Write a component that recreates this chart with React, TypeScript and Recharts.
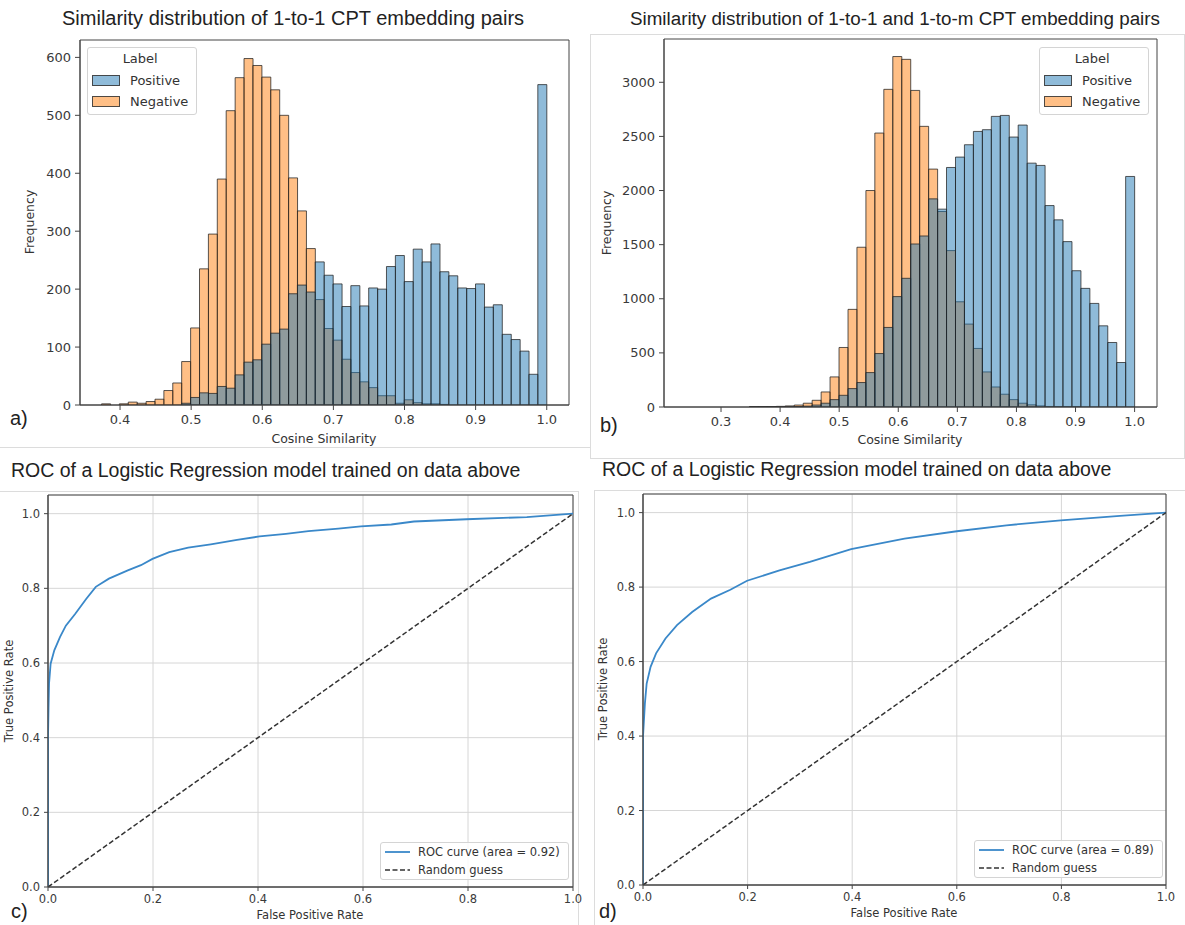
import React from 'react';
import { BarChart, Bar, LineChart, Line, XAxis, YAxis, CartesianGrid, Legend, ReferenceArea } from 'recharts';

// a) 1-to-1 pairs: bin centres (50 bins, 0.374 .. 1.0) and counts per label
const binsA = [
  0.3803, 0.3928, 0.4053, 0.4178, 0.4303, 0.4429, 0.4554, 0.4679, 0.4804, 0.4929,
  0.5055, 0.518, 0.5305, 0.543, 0.5555, 0.5681, 0.5806, 0.5931, 0.6056, 0.6181,
  0.6307, 0.6432, 0.6557, 0.6682, 0.6807, 0.6933, 0.7058, 0.7183, 0.7308, 0.7433,
  0.7559, 0.7684, 0.7809, 0.7934, 0.8059, 0.8185, 0.831, 0.8435, 0.856, 0.8685,
  0.8811, 0.8936, 0.9061, 0.9186, 0.9311, 0.9437, 0.9562, 0.9687, 0.9812, 0.9937,
];
const positiveA = [
  0, 0, 0, 0, 0, 0, 0, 0, 0, 3,
  13, 21, 20, 32, 29, 52, 74, 78, 105, 124,
  131, 192, 207, 195, 247, 224, 209, 170, 206, 171,
  202, 200, 239, 258, 213, 269, 247, 278, 230, 223,
  202, 201, 209, 169, 173, 122, 113, 93, 53, 553,
];
const negativeA = [
  2, 0, 2, 5, 3, 6, 10, 25, 38, 75,
  133, 235, 295, 390, 508, 565, 598, 586, 566, 544,
  500, 392, 335, 270, 182, 132, 112, 79, 56, 40,
  30, 16, 16, 3, 9, 4, 2, 2, 1, 0,
  0, 0, 0, 0, 0, 0, 0, 0, 0, 0,
];

// b) 1-to-1 and 1-to-m pairs: bin centres (50 bins, 0.242 .. 1.0)
const binsB = [
  0.2496, 0.2647, 0.2799, 0.2951, 0.3102, 0.3254, 0.3405, 0.3557, 0.3709, 0.386,
  0.4012, 0.4163, 0.4315, 0.4467, 0.4618, 0.477, 0.4921, 0.5073, 0.5225, 0.5376,
  0.5528, 0.5679, 0.5831, 0.5983, 0.6134, 0.6286, 0.6437, 0.6589, 0.6741, 0.6892,
  0.7044, 0.7195, 0.7347, 0.7499, 0.765, 0.7802, 0.7953, 0.8105, 0.8257, 0.8408,
  0.856, 0.8711, 0.8863, 0.9015, 0.9166, 0.9318, 0.9469, 0.9621, 0.9773, 0.9924,
];
const positiveB = [
  0, 0, 0, 0, 0, 0, 0, 1, 1, 1,
  1, 2, 4, 8, 18, 35, 68, 108, 170, 226,
  318, 494, 735, 1020, 1189, 1506, 1580, 1923, 1828, 2213,
  2309, 2423, 2546, 2562, 2685, 2694, 2494, 2605, 2253, 2232,
  1861, 1729, 1528, 1259, 1096, 957, 750, 596, 411, 2130,
];
const negativeB = [
  0, 0, 0, 0, 0, 0, 0, 2, 3, 4,
  6, 10, 18, 35, 62, 139, 278, 550, 902, 1476,
  2000, 2531, 2935, 3238, 3212, 2925, 2593, 2198, 1806, 1445,
  972, 766, 541, 324, 185, 118, 68, 35, 20, 10,
  5, 3, 2, 1, 0, 0, 0, 0, 0, 0,
];

const simTicksA = [0.4, 0.5, 0.6, 0.7, 0.8, 0.9, 1.0];
const simTicksB = [0.3, 0.4, 0.5, 0.6, 0.7, 0.8, 0.9, 1.0];
const freqTicksA = [0, 100, 200, 300, 400, 500, 600];
const freqTicksB = [0, 500, 1000, 1500, 2000, 2500, 3000];

// c) / d) ROC curves
const rocFprC = [0, 0, 0.001, 0.002, 0.005, 0.012, 0.023, 0.034, 0.052, 0.073, 0.091, 0.116, 0.152, 0.177, 0.199, 0.231, 0.267, 0.31, 0.36, 0.403, 0.453, 0.496, 0.553, 0.596, 0.654, 0.697, 0.797, 0.912, 1];
const rocTprC = [0, 0.4, 0.48, 0.545, 0.598, 0.634, 0.67, 0.7, 0.732, 0.772, 0.804, 0.826, 0.848, 0.862, 0.879, 0.897, 0.909, 0.918, 0.93, 0.939, 0.946, 0.953, 0.96, 0.966, 0.971, 0.979, 0.985, 0.991, 1];
const rocFprD = [0, 0, 0.0036, 0.007, 0.0145, 0.025, 0.043, 0.065, 0.094, 0.13, 0.167, 0.199, 0.261, 0.319, 0.398, 0.5, 0.6, 0.695, 0.799, 0.912, 1];
const rocTprD = [0, 0.398, 0.487, 0.541, 0.586, 0.622, 0.662, 0.698, 0.733, 0.769, 0.793, 0.817, 0.845, 0.868, 0.902, 0.93, 0.95, 0.966, 0.979, 0.991, 1];
const guessLine = [0, 1];
const rateTicks = [0, 0.2, 0.4, 0.6, 0.8, 1.0];

const BLUE = '#1f77b4';
const ORANGE = '#ff7f0e';
const ROC_BLUE = '#3a88c9';
const AXIS = '#444';
const TICK_TXT = '#3a3a3a';
const MPL_FONT = 'DejaVu Sans, Verdana, sans-serif';
const DOC_FONT = 'Liberation Sans, Arial, sans-serif';

const HistLegend = () => (
  <div
    style={{
      border: '1px solid #d4d4d4',
      borderRadius: 3,
      background: 'rgba(255,255,255,0.85)',
      padding: '0 8px 2px 4px',
      fontFamily: MPL_FONT,
      fontSize: 13,
      color: '#333',
    }}
  >
    <div style={{ height: 22, lineHeight: '22px', textAlign: 'center' }}>Label</div>
    {[
      { name: 'Positive', color: BLUE },
      { name: 'Negative', color: ORANGE },
    ].map((item) => (
      <div key={item.name} style={{ height: 21, display: 'flex', alignItems: 'center' }}>
        <svg width={28} height={11} style={{ marginRight: 10 }}>
          <rect x={0.5} y={0.5} width={27} height={10} fill={item.color} fillOpacity={0.5} stroke="#222" strokeOpacity={0.8} />
        </svg>
        <span style={{ whiteSpace: 'nowrap' }}>{item.name}</span>
      </div>
    ))}
  </div>
);

const RocLegend = ({ area }: { area: string }) => (
  <div
    style={{
      border: '1px solid #d4d4d4',
      borderRadius: 3,
      background: 'rgba(255,255,255,0.85)',
      padding: '0 8px 0 4px',
      fontFamily: MPL_FONT,
      fontSize: 11.5,
      color: '#333',
    }}
  >
    <div style={{ height: 18, display: 'flex', alignItems: 'center' }}>
      <svg width={25} height={6} style={{ marginRight: 8 }}>
        <line x1={0} y1={3} x2={25} y2={3} stroke={ROC_BLUE} strokeWidth={1.8} />
      </svg>
      <span style={{ whiteSpace: 'nowrap' }}>{`ROC curve (area = ${area})`}</span>
    </div>
    <div style={{ height: 18, display: 'flex', alignItems: 'center' }}>
      <svg width={25} height={6} style={{ marginRight: 8 }}>
        <line x1={0} y1={3} x2={25} y2={3} stroke="#333" strokeWidth={1.5} strokeDasharray="5 2.5" />
      </svg>
      <span style={{ whiteSpace: 'nowrap' }}>Random guess</span>
    </div>
  </div>
);

interface HistProps {
  bins: number[];
  positive: number[];
  negative: number[];
  xDomain: [number, number];
  yDomain: [number, number];
  xTicks: number[];
  yTicks: number[];
  width: number;
  height: number;
  margin: { top: number; right: number; bottom: number; left: number };
  legendPos: { left: number; top: number };
}

const HistPanel: React.FC<HistProps> = ({ bins, positive, negative, xDomain, yDomain, xTicks, yTicks, width, height, margin, legendPos }) => {
  const data = bins.map((x, i) => ({ x, pos: positive[i], neg: negative[i] }));
  const tick = { fill: TICK_TXT, fontSize: 13, fontFamily: MPL_FONT };
  return (
    <BarChart width={width} height={height} data={data} margin={margin} barCategoryGap={0} barGap={0}>
      <XAxis
        dataKey="x"
        type="number"
        domain={xDomain}
        ticks={xTicks}
        tickFormatter={(v: number) => v.toFixed(1)}
        allowDataOverflow
        height={30}
        tickSize={5}
        tickMargin={5}
        stroke={AXIS}
        tick={tick}
      />
      {/* second x axis so the two labels overlap instead of sitting side by side */}
      <XAxis xAxisId="top" orientation="top" dataKey="x" type="number" domain={xDomain} allowDataOverflow height={0} tick={false} tickLine={false} axisLine={false} />
      <YAxis type="number" domain={yDomain} ticks={yTicks} allowDataOverflow width={60} tickSize={5} tickMargin={4} stroke={AXIS} tick={tick} />
      <Bar dataKey="neg" fill={ORANGE} fillOpacity={0.5} stroke="#222" strokeOpacity={0.75} strokeWidth={1} isAnimationActive={false} />
      <Bar dataKey="pos" xAxisId="top" fill={BLUE} fillOpacity={0.5} stroke="#222" strokeOpacity={0.75} strokeWidth={1} isAnimationActive={false} />
      <ReferenceArea x1={xDomain[0]} x2={xDomain[1]} y1={yDomain[0]} y2={yDomain[1]} fill="none" stroke={AXIS} strokeWidth={1} ifOverflow="visible" />
      <Legend
        layout="horizontal"
        verticalAlign="middle"
        align="center"
        content={() => <HistLegend />}
        wrapperStyle={{ left: legendPos.left, top: legendPos.top, width: 'auto', height: 'auto' }}
      />
    </BarChart>
  );
};

interface RocProps {
  fpr: number[];
  tpr: number[];
  area: string;
  width: number;
  height: number;
  margin: { top: number; right: number; bottom: number; left: number };
  legendPos: { left: number; top: number };
}

const RocPanel: React.FC<RocProps> = ({ fpr, tpr, area, width, height, margin, legendPos }) => {
  const curve = fpr.map((x, i) => ({ fpr: x, tpr: tpr[i] }));
  const guess = guessLine.map((v) => ({ fpr: v, tpr: v }));
  const tick = { fill: TICK_TXT, fontSize: 11.5, fontFamily: MPL_FONT };
  return (
    <LineChart width={width} height={height} margin={margin}>
      <CartesianGrid stroke="#d6d6d6" strokeWidth={1} />
      <XAxis
        dataKey="fpr"
        type="number"
        domain={[0, 1]}
        ticks={rateTicks}
        tickFormatter={(v: number) => v.toFixed(1)}
        allowDataOverflow
        height={30}
        tickSize={4}
        tickMargin={4}
        stroke={AXIS}
        tick={tick}
      />
      <YAxis
        type="number"
        domain={[0, 1.05]}
        ticks={rateTicks}
        tickFormatter={(v: number) => v.toFixed(1)}
        allowDataOverflow
        width={40}
        tickSize={4}
        tickMargin={4}
        stroke={AXIS}
        tick={tick}
      />
      <ReferenceArea x1={0} x2={1} y1={0} y2={1.05} fill="none" stroke={AXIS} strokeWidth={1} ifOverflow="visible" />
      <Line data={curve} dataKey="tpr" type="linear" stroke={ROC_BLUE} strokeWidth={1.8} dot={false} isAnimationActive={false} />
      <Line data={guess} dataKey="tpr" type="linear" stroke="#333" strokeWidth={1.5} strokeDasharray="5 2.5" dot={false} isAnimationActive={false} />
      <Legend
        layout="horizontal"
        verticalAlign="middle"
        align="center"
        content={() => <RocLegend area={area} />}
        wrapperStyle={{ left: legendPos.left, top: legendPos.top, width: 'auto', height: 'auto' }}
      />
    </LineChart>
  );
};

const Txt = ({ x, y, size, children, rotate, font = MPL_FONT, color = '#333' }: { x: number; y: number; size: number; children: React.ReactNode; rotate?: boolean; font?: string; color?: string }) => (
  <div
    style={{
      position: 'absolute',
      left: x,
      top: y,
      transform: `translate(-50%, -50%)${rotate ? ' rotate(-90deg)' : ''}`,
      whiteSpace: 'nowrap',
      fontFamily: font,
      fontSize: size,
      lineHeight: 1,
      color,
    }}
  >
    {children}
  </div>
);

const Tag = ({ x, y, children, size = 18 }: { x: number; y: number; children: React.ReactNode; size?: number }) => (
  <div style={{ position: 'absolute', left: x, top: y, fontFamily: DOC_FONT, fontSize: size, lineHeight: '20px', color: '#222', whiteSpace: 'nowrap' }}>
    {children}
  </div>
);

const Rule = ({ left, top, width, height }: { left: number; top: number; width: number; height: number }) => (
  <div style={{ position: 'absolute', left, top, width, height, background: '#dcdcdc' }} />
);

export default function App() {
  return (
    <div style={{ position: 'absolute', left: 0, top: 0, width: 1185, height: 925, background: '#fff', overflow: 'hidden' }}>
      {/* screenshot edges */}
      <Rule left={0} top={447} width={590} height={1} />
      <Rule left={590} top={34} width={1} height={424} />
      <Rule left={590} top={34} width={595} height={1} />
      <Rule left={590} top={458} width={595} height={1} />
      <Rule left={1184} top={34} width={1} height={424} />
      <Rule left={0} top={491} width={578} height={1} />
      <Rule left={578} top={491} width={1} height={434} />
      <Rule left={594} top={490} width={591} height={1} />
      <Rule left={594} top={490} width={1} height={435} />

      {/* a) */}
      <div style={{ position: 'absolute', left: 0, top: 30 }}>
        <HistPanel
          bins={binsA}
          positive={positiveA}
          negative={negativeA}
          xDomain={[0.3437, 1.0313]}
          yDomain={[0, 630]}
          xTicks={simTicksA}
          yTicks={freqTicksA}
          width={590}
          height={420}
          margin={{ top: 10, right: 21, bottom: 15, left: 20 }}
          legendPos={{ left: 87, top: 17 }}
        />
      </div>
      <Tag x={62} y={8} size={20}>Similarity distribution of 1-to-1 CPT embedding pairs</Tag>
      <Txt x={30} y={222} size={12.5} rotate>Frequency</Txt>
      <Txt x={324} y={439} size={12.5}>Cosine Similarity</Txt>
      <Tag x={10} y={408} size={20}>a)</Tag>

      {/* b) */}
      <div style={{ position: 'absolute', left: 590, top: 30 }}>
        <HistPanel
          bins={binsB}
          positive={positiveB}
          negative={negativeB}
          xDomain={[0.2035, 1.0379]}
          yDomain={[0, 3400]}
          xTicks={simTicksB}
          yTicks={freqTicksB}
          width={595}
          height={430}
          margin={{ top: 9, right: 28, bottom: 23, left: 14 }}
          legendPos={{ left: 449, top: 17 }}
        />
      </div>
      <Tag x={630} y={9} size={18.8}>Similarity distribution of 1-to-1 and 1-to-m CPT embedding pairs</Tag>
      <Txt x={607} y={223} size={12.5} rotate>Frequency</Txt>
      <Txt x={910} y={440} size={12.5}>Cosine Similarity</Txt>
      <Tag x={600} y={415} size={20}>b)</Tag>

      {/* c) */}
      <Tag x={11} y={460} size={19.5}>ROC of a Logistic Regression model trained on data above</Tag>
      <div style={{ position: 'absolute', left: 0, top: 480 }}>
        <RocPanel
          fpr={rocFprC}
          tpr={rocTprC}
          area="0.92"
          width={590}
          height={445}
          margin={{ top: 15, right: 17, bottom: 8, left: 8 }}
          legendPos={{ left: 380, top: 362 }}
        />
      </div>
      <Txt x={10} y={691} size={11.5} rotate>True Positive Rate</Txt>
      <Txt x={310} y={916} size={11.5}>False Positive Rate</Txt>
      <Tag x={11} y={901} size={20}>c)</Tag>

      {/* d) */}
      <Tag x={602} y={459} size={19.5}>ROC of a Logistic Regression model trained on data above</Tag>
      <div style={{ position: 'absolute', left: 590, top: 480 }}>
        <RocPanel
          fpr={rocFprD}
          tpr={rocTprD}
          area="0.89"
          width={595}
          height={445}
          margin={{ top: 14, right: 19, bottom: 10, left: 13 }}
          legendPos={{ left: 384, top: 360 }}
        />
      </div>
      <Txt x={604} y={689} size={11.5} rotate>True Positive Rate</Txt>
      <Txt x={904} y={914} size={11.5}>False Positive Rate</Txt>
      <Tag x={599} y={901} size={20}>d)</Tag>
    </div>
  );
}
